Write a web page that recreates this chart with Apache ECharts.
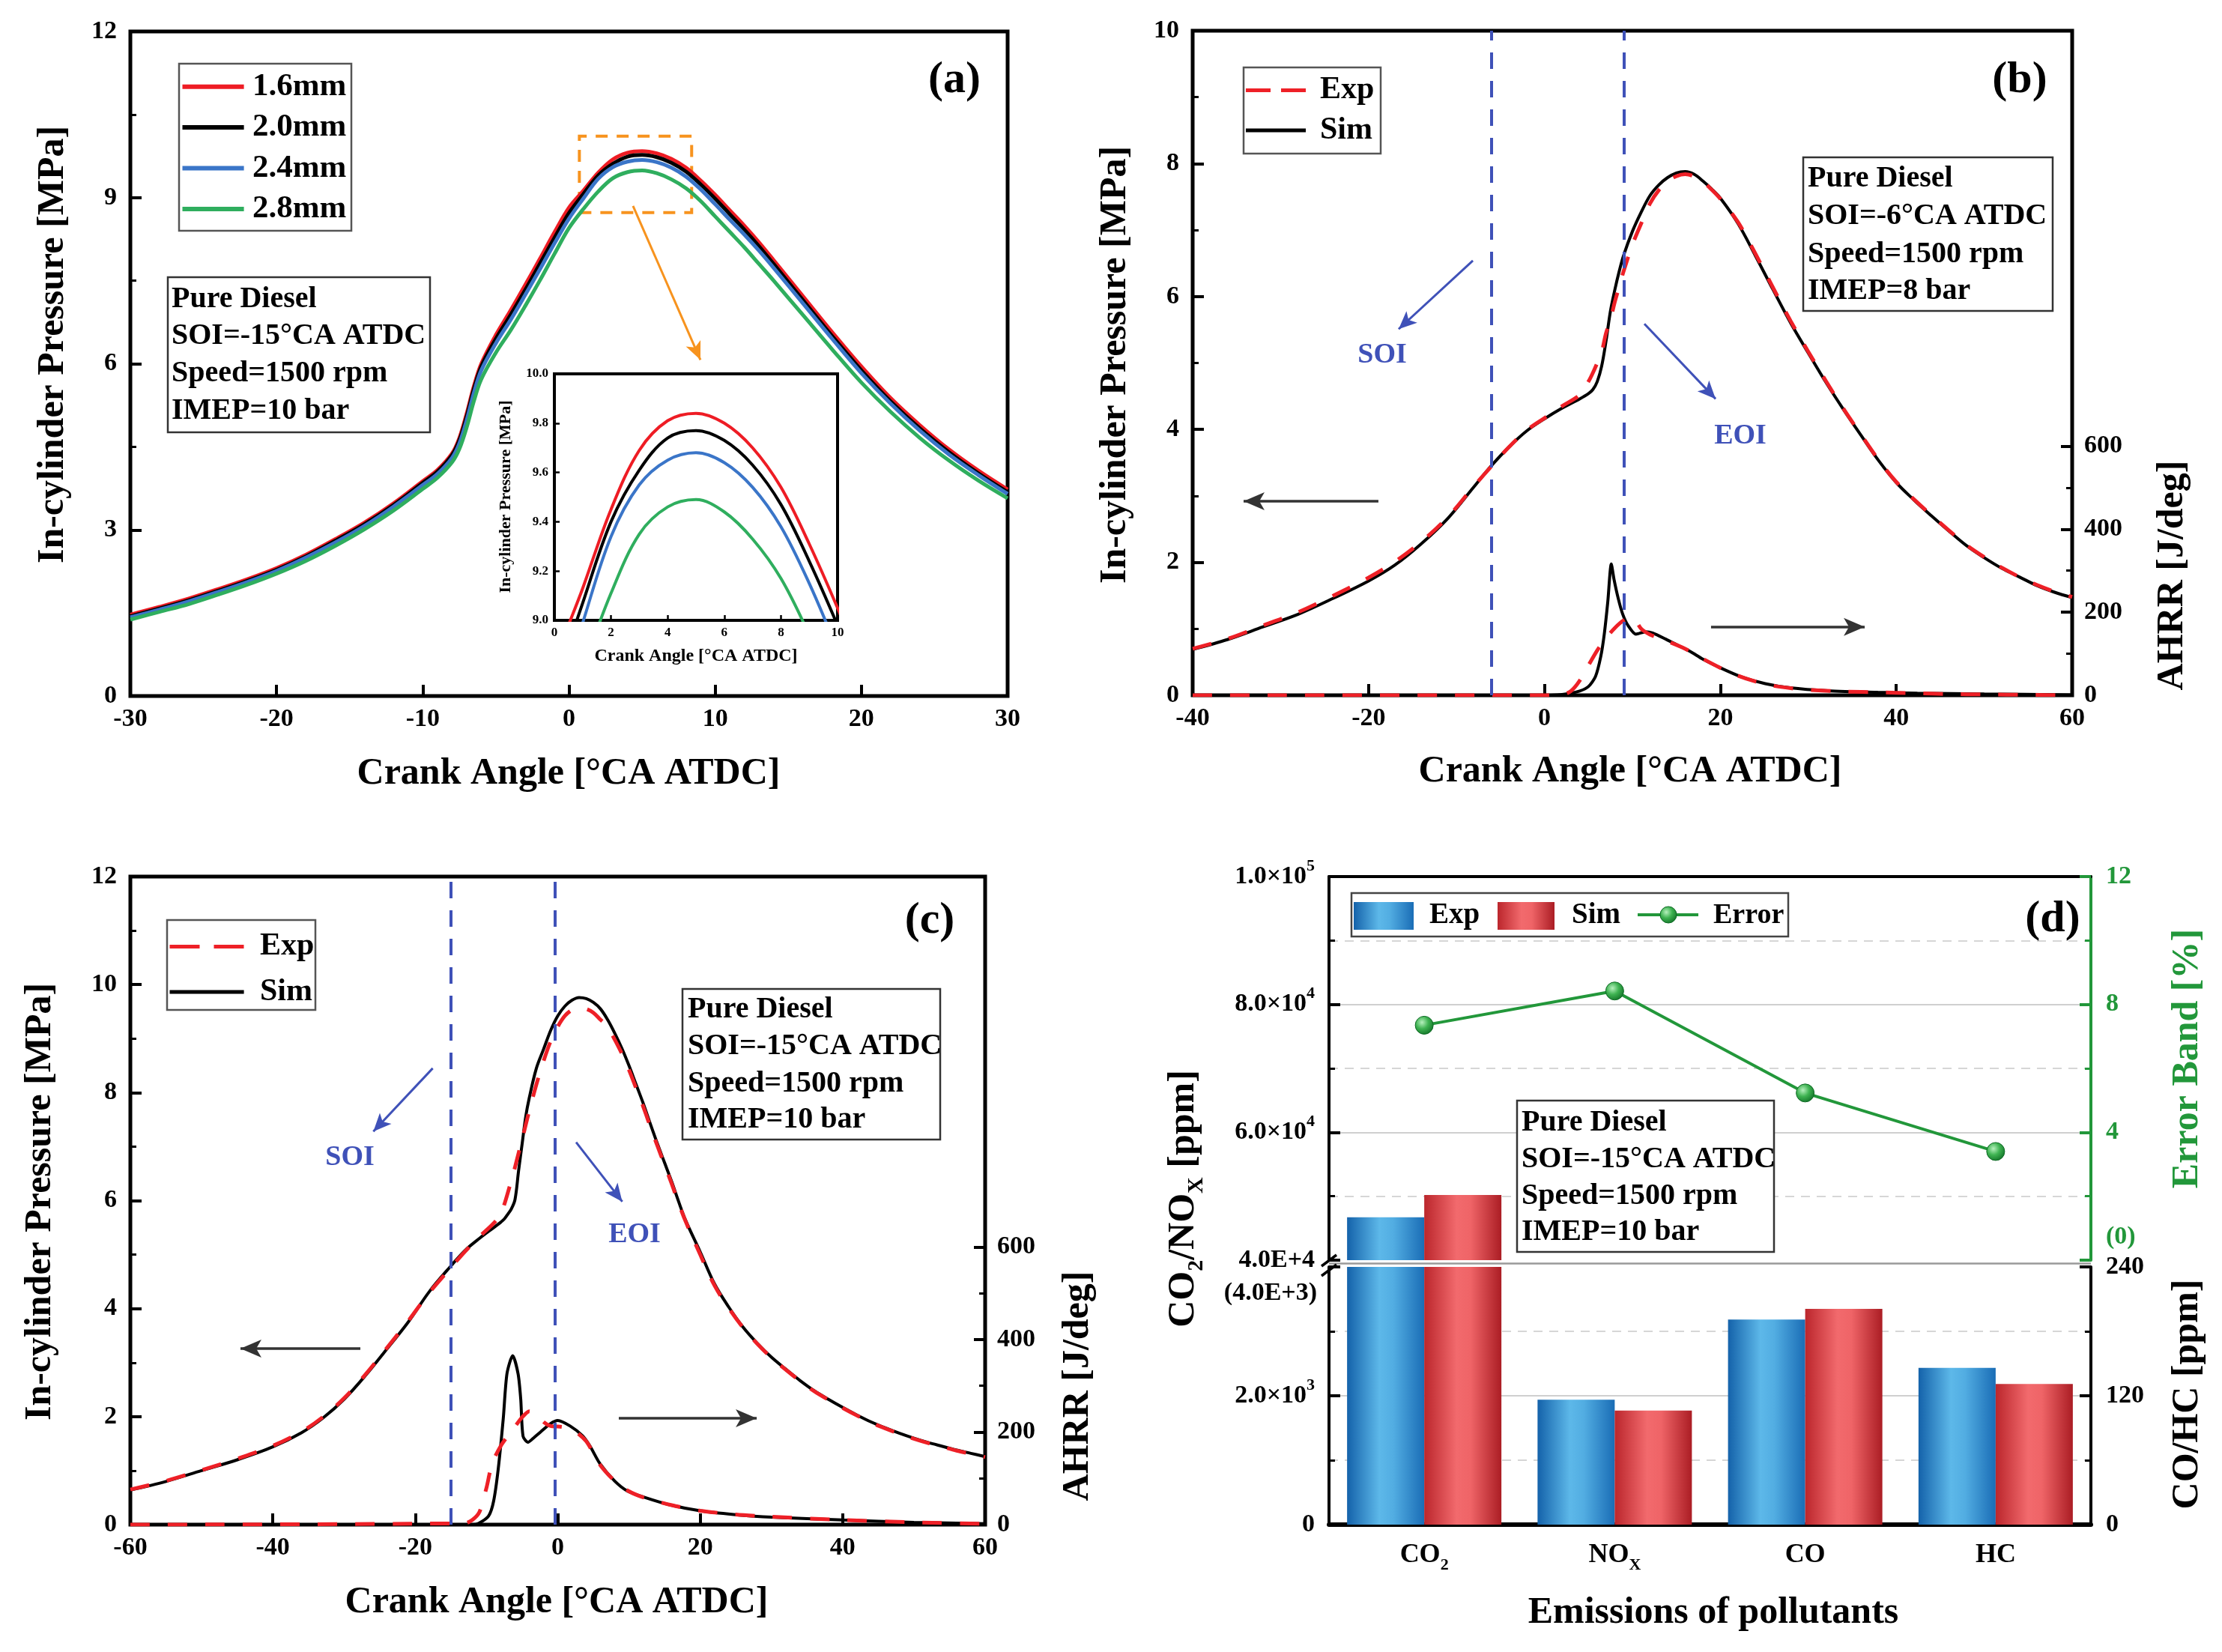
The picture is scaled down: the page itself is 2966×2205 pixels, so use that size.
<!DOCTYPE html>
<html>
<head>
<meta charset="utf-8">
<title>Pure diesel validation</title>
<script src="https://cdn.jsdelivr.net/npm/echarts@6.0.0/dist/echarts.min.js"></script>
<style>
html,body{margin:0;padding:0;background:#ffffff;}
#chart{width:2966px;height:2205px;}
</style>
</head>
<body>
<div id="chart"></div>
<script>
// ================= DATA =================
// ---- Panel (a): in-cylinder pressure for four nozzle sizes ----
const aNames = ['1.6mm', '2.0mm', '2.4mm', '2.8mm'];
const aCrank = [-30,-28,-26,-24,-22,-20,-18,-16,-14,-12,-10,-9,-8,-7.5,-7,-6.5,-6,-5,-4,-3,-2,-1,0,1,2,3,4,5,6,7,8,9,10,11,12,13,14,16,18,20,22,24,26,28,30];
const aP16 = [1.47,1.61,1.76,1.93,2.11,2.31,2.55,2.83,3.13,3.48,3.88,4.08,4.38,4.66,5.10,5.60,6.00,6.52,6.96,7.42,7.89,8.37,8.82,9.13,9.45,9.69,9.81,9.84,9.80,9.70,9.54,9.31,9.05,8.77,8.49,8.19,7.87,7.22,6.57,5.95,5.38,4.89,4.45,4.07,3.73];
const aP20 = [1.44,1.58,1.73,1.90,2.08,2.28,2.52,2.80,3.10,3.45,3.85,4.05,4.35,4.62,5.05,5.55,5.95,6.45,6.88,7.33,7.80,8.27,8.72,9.07,9.40,9.61,9.74,9.77,9.73,9.63,9.47,9.24,8.98,8.70,8.42,8.12,7.80,7.15,6.50,5.88,5.32,4.83,4.40,4.02,3.68];
const aP24 = [1.42,1.56,1.71,1.88,2.06,2.26,2.50,2.77,3.07,3.42,3.81,4.01,4.30,4.56,4.98,5.48,5.88,6.37,6.79,7.24,7.70,8.17,8.62,8.99,9.34,9.55,9.65,9.68,9.64,9.54,9.38,9.15,8.88,8.60,8.33,8.04,7.73,7.09,6.45,5.83,5.28,4.79,4.36,3.99,3.65];
const aP28 = [1.38,1.52,1.66,1.83,2.01,2.21,2.44,2.71,3.01,3.35,3.74,3.94,4.22,4.46,4.85,5.33,5.72,6.20,6.60,7.04,7.50,7.98,8.45,8.80,9.11,9.35,9.46,9.49,9.44,9.33,9.17,8.94,8.66,8.38,8.10,7.80,7.50,6.88,6.26,5.66,5.13,4.66,4.25,3.89,3.57];
const aInfo = ['Pure Diesel', 'SOI=-15°CA ATDC', 'Speed=1500 rpm', 'IMEP=10 bar'];

// ---- Panel (b): SOI=-6, IMEP=8 bar ----
const bCrank = [-40,-36,-32,-28,-24,-20,-17,-14,-11,-8,-6,-4,-2,0,2,4,5,5.5,6,6.5,7,7.5,8,8.5,9,10,11,12,13,14,15,16,17,18,19,20,22,24,26,28,30,32,34,36,38,40,42,44,46,48,50,52,54,56,58,60];
const bSimP = [0.69,0.84,1.03,1.22,1.46,1.72,1.96,2.28,2.66,3.14,3.46,3.74,3.98,4.16,4.32,4.46,4.54,4.60,4.72,4.95,5.33,5.78,6.10,6.38,6.62,6.98,7.27,7.52,7.68,7.79,7.86,7.88,7.84,7.74,7.62,7.48,7.10,6.61,6.10,5.60,5.15,4.71,4.30,3.91,3.53,3.20,2.94,2.70,2.47,2.25,2.07,1.91,1.78,1.65,1.55,1.47];
const bExpP = [0.70,0.85,1.05,1.25,1.50,1.77,2.01,2.31,2.68,3.15,3.45,3.74,3.99,4.17,4.35,4.52,4.72,4.85,5.00,5.16,5.45,5.65,5.92,6.15,6.38,6.78,7.10,7.40,7.60,7.73,7.81,7.84,7.81,7.73,7.61,7.47,7.12,6.64,6.13,5.63,5.17,4.73,4.31,3.92,3.54,3.21,2.95,2.71,2.48,2.26,2.08,1.92,1.78,1.66,1.56,1.48];
const bSimHX = [-40,0,2,3,4,5,5.8,6.4,6.8,7.2,7.6,7.9,8.4,8.9,9.5,10.4,11.5,12.3,13.8,15.2,16.6,18,20,22.3,25.1,27.9,32.2,37.9,42.4,50,60];
const bSimH  = [0,0,2,5,10,21,45,93,147,225,316,280,232,195,168,147,153,150,135,120,105,87,66,45,28,18,11,7,5,3,1];
const bExpHX = [-40,0,2,3,4,5,6,7,8,9,10,11,12,13,14,16,18,20,22,24,26,28,30,34,38,42,46,50,55,60];
const bExpH  = [0,0,1,10,35,72,108,138,162,180,187,160,146,138,130,112,88,66,47,33,23,17,13,9,7,5,3,2,1,0];
const bInjection = [-6, 9];   // SOI, EOI
const bInfo = ['Pure Diesel', 'SOI=-6°CA ATDC', 'Speed=1500 rpm', 'IMEP=8 bar'];

// ---- Panel (c): SOI=-15, IMEP=10 bar ----
const cCrank = [-60,-55,-50,-45,-40,-36,-33,-30,-27,-24,-21,-18,-15,-13,-11,-9,-8,-7.5,-7,-6.5,-6,-5.5,-5,-4.5,-4,-3,-2,-1,0,1,2,3,4,5,6,7,8,9,10,11,12,13,14,15,16,17,18,20,22,24,26,28,30,32,34,36,38,40,42,44,46,48,50,52,54,56,58,60];
const cSimP = [0.64,0.80,1.00,1.20,1.44,1.70,1.97,2.32,2.76,3.25,3.75,4.32,4.79,5.08,5.30,5.50,5.60,5.66,5.75,5.85,6.02,6.55,7.05,7.55,7.90,8.45,8.80,9.15,9.42,9.60,9.71,9.76,9.74,9.67,9.55,9.35,9.10,8.82,8.50,8.15,7.80,7.42,7.05,6.70,6.35,5.97,5.62,5.05,4.46,4.03,3.66,3.36,3.10,2.88,2.67,2.48,2.32,2.17,2.03,1.90,1.79,1.69,1.60,1.52,1.45,1.38,1.32,1.26];
const cExpP = [0.65,0.81,1.01,1.22,1.46,1.72,1.99,2.34,2.78,3.27,3.77,4.30,4.76,5.06,5.33,5.58,5.75,5.93,6.15,6.38,6.62,6.88,7.13,7.40,7.66,8.15,8.58,8.95,9.22,9.42,9.53,9.57,9.55,9.48,9.35,9.22,8.98,8.72,8.42,8.08,7.74,7.37,7.01,6.66,6.31,5.94,5.60,5.00,4.43,4.01,3.65,3.35,3.09,2.87,2.66,2.47,2.31,2.16,2.02,1.89,1.78,1.68,1.59,1.51,1.44,1.37,1.31,1.25];
const cSimHX = [-60,-12,-11.1,-9.7,-9.0,-8.35,-7.65,-7.13,-6.33,-5.57,-5.2,-4.87,-4.17,-3.48,-2.43,-1.04,0,1.74,3.48,4.52,5.91,8.0,9.74,12.2,15.7,20,24.7,30,40,50,60];
const cSimH  = [0,0,3,19,51,121,229,326,365,326,272,191,178,186,200,218,225,213,192,170,132,94,73,59,43,30,22,16,10,5,2];
const cExpHX = [-60,-13,-12,-11,-10,-9.5,-9,-8,-7,-6,-5,-4,-3,-2,-1,0,1,2,3,4,5,6,8,10,12,16,20,25,30,40,50,60];
const cExpH  = [0,3,10,27,80,115,140,170,192,212,232,245,240,222,213,212,210,205,195,180,155,128,94,72,59,42,30,22,17,10,5,2];
const cInjection = [-15, -0.4];  // SOI, EOI
const cInfo = ['Pure Diesel', 'SOI=-15°CA ATDC', 'Speed=1500 rpm', 'IMEP=10 bar'];

// ---- Panel (d): emissions ----
const dCategories = ['CO2', 'NOx', 'CO', 'HC'];
const dCatLabels  = ['CO{s|2}', 'NO{s|X}', 'CO', 'HC'];
const dExp   = [46700, 1940, 191, 146];
const dSim   = [50200, 1770, 201, 131];
const dError = [7.35, 8.42, 5.23, 3.40];
const dUpLeftLabels  = {40000: '4.0E+4', 60000: '{m|6.0×10}{p|4}', 80000: '{m|8.0×10}{p|4}', 100000: '{m|1.0×10}{p|5}'};
const dLowLeftLabels = {0: '0', 2000: '{m|2.0×10}{p|3}', 4000: ''};
const dUpRightLabels = {0: '', 4: '4', 8: '8', 12: '12'};
const dLowRightLabels = {0: '0', 120: '120', 240: '240'};
const dInfo = ['Pure Diesel', 'SOI=-15°CA ATDC', 'Speed=1500 rpm', 'IMEP=10 bar'];

// ================= STYLE =================
const F = '"Times New Roman","Liberation Serif",serif';
const RED = '#ee2027', BLUEL = '#3f51b8', GREEN = '#22973a';
const aColors = ['#ee1c24', '#000000', '#3a75c8', '#2fae5e'];
const pairs = (xs, ys) => xs.map((x, i) => [x, ys[i]]);

const lab = (size, margin, extra) => Object.assign({show: true, color: '#000', fontFamily: F, fontWeight: 'bold', fontSize: size, margin: margin, showMinLabel: true, showMaxLabel: true}, extra || {});
const tick = (len, w, color, extra) => Object.assign({show: true, inside: true, length: len, lineStyle: {color: color || '#000', width: w}}, extra || {});
const minor = (len, w, color) => ({show: true, splitNumber: 2, length: len, lineStyle: {color: color || '#000', width: w}});
const noLine = {show: false, onZero: false};
const noSplit = {show: false};

function valX(grid, min, max, interval, size, margin, tl, tw) {
  return {type: 'value', gridIndex: grid, min: min, max: max, interval: interval, axisLine: noLine,
    axisTick: tick(tl || 15, tw || 4), minorTick: {show: false}, splitLine: noSplit, axisLabel: lab(size || 34, margin || 14)};
}
function valY(grid, min, max, interval, extra) {
  return Object.assign({type: 'value', gridIndex: grid, position: 'left', min: min, max: max, interval: interval, axisLine: noLine,
    axisTick: tick(15, 4), minorTick: minor(8, 3), splitLine: noSplit, axisLabel: lab(34, 18)}, extra || {});
}
function ahrrY(grid, max) {
  return {type: 'value', gridIndex: grid, position: 'right', min: 0, max: max, interval: 200, axisLine: noLine,
    axisTick: tick(15, 4, '#000', {customValues: [0, 200, 400, 600]}), minorTick: {show: false}, splitLine: noSplit,
    axisLabel: lab(34, 16, {customValues: [0, 200, 400, 600]})};
}
function ahrrMinorY(grid, max) {
  return {type: 'value', gridIndex: grid, position: 'right', min: 0, max: max, interval: 200, axisLine: noLine,
    axisTick: tick(8, 3, '#000', {customValues: [100, 300, 500]}), minorTick: {show: false}, splitLine: noSplit,
    axisLabel: {show: false}};
}

function vline(x) { return {xAxis: x, lineStyle: {color: BLUEL, width: 4, type: [22, 16]}}; }
function arrow(p1, p2, color, width, size) {
  const ls = {color: color, width: width, type: 'solid'};
  return [{coord: p1, symbol: 'none', lineStyle: ls}, {coord: p2, symbol: 'arrow', symbolSize: size, lineStyle: ls}];
}
function mline(items) {
  return {silent: true, symbol: ['none', 'none'], label: {show: false}, emphasis: {disabled: true}, animation: false, data: items};
}

const gridBase = {show: true, borderColor: '#000', borderWidth: 5, backgroundColor: 'rgba(0,0,0,0)', containLabel: false, outerBoundsMode: 'none'};
const SM_P = 0.35, SM_H = 0.25;

// ================= SERIES =================
const series = [];
const aCurves = [aP16, aP20, aP24, aP28];
aCurves.forEach((ys, i) => {
  const s = {type: 'line', name: aNames[i], xAxisIndex: 0, yAxisIndex: 0, data: pairs(aCrank, ys), symbol: 'none', showSymbol: false,
    smooth: SM_P, lineStyle: {color: aColors[i], width: 5}, itemStyle: {color: aColors[i]}, silent: true, z: 3};
  if (i === 1) {
    s.markArea = {silent: true, itemStyle: {color: 'rgba(0,0,0,0)', borderColor: '#f7931e', borderWidth: 4, borderType: [16, 12]},
      data: [[{coord: [0.71, 8.73]}, {coord: [8.39, 10.11]}]]};
    s.markLine = mline([arrow([4.38, 8.85], [8.99, 6.07], '#f7931e', 3, [16, 24])]);
  }
  series.push(s);
});
aCurves.forEach((ys, i) => {
  series.push({type: 'line', name: aNames[i], xAxisIndex: 1, yAxisIndex: 1, data: pairs(aCrank, ys), symbol: 'none', showSymbol: false,
    smooth: SM_P, lineStyle: {color: aColors[i], width: 4}, itemStyle: {color: aColors[i]}, silent: true, z: 3});
});

// panel (b)
series.push({type: 'line', name: 'Sim', xAxisIndex: 2, yAxisIndex: 2, data: pairs(bCrank, bSimP), symbol: 'none', smooth: SM_P,
  lineStyle: {color: '#000', width: 4}, itemStyle: {color: '#000'}, silent: true, z: 3,
  markLine: mline([vline(bInjection[0]), vline(bInjection[1]),
    arrow([-8.14, 6.54], [-16.58, 5.51], BLUEL, 3, [16, 24]),
    arrow([11.36, 5.59], [19.46, 4.46], BLUEL, 3, [16, 24]),
    arrow([-18.88, 2.92], [-34.21, 2.92], '#333', 3.5, [18, 28]),
    arrow([18.94, 1.03], [36.41, 1.03], '#333', 3.5, [18, 28])])});
series.push({type: 'line', name: 'Exp', xAxisIndex: 2, yAxisIndex: 2, data: pairs(bCrank, bExpP), symbol: 'none', smooth: SM_P,
  lineStyle: {color: RED, width: 5, type: [26, 24]}, itemStyle: {color: RED}, silent: true, z: 4});
series.push({type: 'line', name: 'Sim', xAxisIndex: 2, yAxisIndex: 3, data: pairs(bSimHX, bSimH), symbol: 'none', smooth: SM_H,
  lineStyle: {color: '#000', width: 4}, itemStyle: {color: '#000'}, silent: true, z: 3});
series.push({type: 'line', name: 'Exp', xAxisIndex: 2, yAxisIndex: 3, data: pairs(bExpHX, bExpH), symbol: 'none', smooth: SM_H,
  lineStyle: {color: RED, width: 5, type: [26, 24]}, itemStyle: {color: RED}, silent: true, z: 4});

// panel (c)
series.push({type: 'line', name: 'Sim', xAxisIndex: 3, yAxisIndex: 5, data: pairs(cCrank, cSimP), symbol: 'none', smooth: SM_P,
  lineStyle: {color: '#000', width: 4}, itemStyle: {color: '#000'}, silent: true, z: 3,
  markLine: mline([vline(cInjection[0]), vline(cInjection[1]),
    arrow([-17.55, 8.45], [-25.89, 7.28], BLUEL, 3, [16, 24]),
    arrow([2.58, 7.08], [9.06, 5.98], BLUEL, 3, [16, 24]),
    arrow([-27.71, 3.26], [-44.54, 3.26], '#333', 3.5, [18, 28]),
    arrow([8.57, 1.97], [27.93, 1.97], '#333', 3.5, [18, 28])])});
series.push({type: 'line', name: 'Exp', xAxisIndex: 3, yAxisIndex: 5, data: pairs(cCrank, cExpP), symbol: 'none', smooth: SM_P,
  lineStyle: {color: RED, width: 5, type: [26, 24]}, itemStyle: {color: RED}, silent: true, z: 4});
series.push({type: 'line', name: 'Sim', xAxisIndex: 3, yAxisIndex: 6, data: pairs(cSimHX, cSimH), symbol: 'none', smooth: SM_H,
  lineStyle: {color: '#000', width: 4}, itemStyle: {color: '#000'}, silent: true, z: 3});
series.push({type: 'line', name: 'Exp', xAxisIndex: 3, yAxisIndex: 6, data: pairs(cExpHX, cExpH), symbol: 'none', smooth: SM_H,
  lineStyle: {color: RED, width: 5, type: [26, 24]}, itemStyle: {color: RED}, silent: true, z: 4});

// panel (d)
const expGrad = new echarts.graphic.LinearGradient(0, 0, 1, 0, [
  {offset: 0, color: '#1462aa'}, {offset: 0.42, color: '#5db8e9'}, {offset: 0.6, color: '#52ade2'}, {offset: 1, color: '#1a6db6'}]);
const simGrad = new echarts.graphic.LinearGradient(0, 0, 1, 0, [
  {offset: 0, color: '#bb262c'}, {offset: 0.42, color: '#f26a6d'}, {offset: 0.6, color: '#ef6467'}, {offset: 1, color: '#ab1d24'}]);
const dotGrad = new echarts.graphic.RadialGradient(0.38, 0.35, 0.75, [
  {offset: 0, color: '#b6f0bd'}, {offset: 0.45, color: '#3fb352'}, {offset: 1, color: '#0c6a22'}]);
const pick = (arr, idx) => arr.map((v, i) => idx.indexOf(i) >= 0 ? v : '-');
const barBase = {type: 'bar', barWidth: 103, barGap: '0%', silent: true, z: 3};
series.push(Object.assign({}, barBase, {name: 'Exp', xAxisIndex: 4, yAxisIndex: 8, data: pick(dExp, [0]), itemStyle: {color: expGrad}}));
series.push(Object.assign({}, barBase, {name: 'Sim', xAxisIndex: 4, yAxisIndex: 8, data: pick(dSim, [0]), itemStyle: {color: simGrad}}));
series.push(Object.assign({}, barBase, {name: 'Exp', xAxisIndex: 5, yAxisIndex: 10, data: pick(dExp, [0, 1]), itemStyle: {color: expGrad}}));
series.push(Object.assign({}, barBase, {name: 'Sim', xAxisIndex: 5, yAxisIndex: 10, data: pick(dSim, [0, 1]), itemStyle: {color: simGrad}}));
series.push(Object.assign({}, barBase, {name: 'Exp', xAxisIndex: 6, yAxisIndex: 11, data: pick(dExp, [2, 3]), itemStyle: {color: expGrad}}));
series.push(Object.assign({}, barBase, {name: 'Sim', xAxisIndex: 6, yAxisIndex: 11, data: pick(dSim, [2, 3]), itemStyle: {color: simGrad}}));
series.push({type: 'line', name: 'Error', xAxisIndex: 4, yAxisIndex: 9, data: dError, symbol: 'circle', symbolSize: 24, showSymbol: true,
  lineStyle: {color: GREEN, width: 4}, itemStyle: {color: dotGrad, borderColor: '#0d6a24', borderWidth: 1}, silent: true, z: 6});

// ================= GRAPHICS (titles, legends, notes) =================
const G = [];
function T(x, y, text, size, o) {
  o = o || {};
  const st = {text: text, fontSize: size, fontWeight: 'bold', fontFamily: F, fill: o.color || '#000',
    align: o.align || 'center', verticalAlign: 'middle', textAlign: o.align || 'center', textVerticalAlign: 'middle'};
  if (o.rich) { st.rich = o.rich; st.lineHeight = o.lh || size * 1.3; }
  G.push({type: 'text', x: x, y: y, rotation: o.rot ? Math.PI / 2 : 0, z: 101, silent: true, style: st});
}
function L(x1, y1, x2, y2, color, w, dash) {
  G.push({type: 'line', z: 101, silent: true, shape: {x1: x1, y1: y1, x2: x2, y2: y2}, style: {stroke: color, lineWidth: w, lineDash: dash || null}});
}
function R(x, y, w, h, o) {
  o = o || {};
  G.push({type: 'rect', z: 100, silent: true, shape: {x: x, y: y, width: w, height: h}, style: {fill: o.fill || '#fff', stroke: o.stroke || '#333', lineWidth: o.lw === undefined ? 2.5 : o.lw}});
}
function infoBox(x, y, w, h, tx, ys, lines) {
  R(x, y, w, h);
  lines.forEach((t, i) => T(tx, ys[i], t, 40, {align: 'left'}));
}

// axis titles
T(71, 460, 'In-cylinder Pressure [MPa]', 50, {rot: true});
T(759, 1033, 'Crank Angle [°CA ATDC]', 50);
T(1489, 487, 'In-cylinder Pressure [MPa]', 50, {rot: true});
T(2176, 1030, 'Crank Angle [°CA ATDC]', 50);
T(2900, 768, 'AHRR [J/deg]', 50, {rot: true});
T(54, 1604, 'In-cylinder Pressure [MPa]', 50, {rot: true});
T(743, 2139, 'Crank Angle [°CA ATDC]', 50);
T(1439, 1850, 'AHRR [J/deg]', 50, {rot: true});
T(1580, 1600, 'CO{s|2}/NO{s|X} [ppm]', 50, {rot: true, lh: 64,
  rich: {s: {fontSize: 30, fontWeight: 'bold', fontFamily: F, lineHeight: 30, verticalAlign: 'bottom'}}});
T(2920, 1413, 'Error Band [%]', 50, {rot: true, color: GREEN});
T(2920, 1861, 'CO/HC [ppm]', 50, {rot: true});
T(2287, 2153, 'Emissions of pollutants', 50);
// inset titles
T(675, 663, 'In-cylinder Pressure [MPa]', 22, {rot: true});
T(929, 876, 'Crank Angle [°CA ATDC]', 24);

// panel labels
T(1274, 107, '(a)', 60);
T(2696, 107, '(b)', 60);
T(1241, 1229, '(c)', 60);
T(2740, 1227, '(d)', 60);

// SOI / EOI annotations
T(1845, 474, 'SOI', 38, {color: BLUEL});
T(2323, 582, 'EOI', 38, {color: BLUEL});
T(467, 1545, 'SOI', 38, {color: BLUEL});
T(847, 1648, 'EOI', 38, {color: BLUEL});

// legend (a)
R(239, 85, 230, 223, {stroke: '#555'});
[115.7, 170.1, 224.5, 278.9].forEach((y, i) => {
  L(243.5, y, 325.6, y, aColors[i], 6);
  T(337, y, aNames[i], 43, {align: 'left'});
});
// legend (b)
R(1660, 90, 183, 115, {stroke: '#555'});
L(1663, 120.5, 1743, 120.5, RED, 5, [33, 14]);
L(1663, 174, 1743, 174, '#000', 5);
T(1762, 120.5, 'Exp', 42, {align: 'left'});
T(1762, 174, 'Sim', 42, {align: 'left'});
// legend (c)
R(223, 1228, 198, 120, {stroke: '#555'});
L(226.5, 1263.5, 325.6, 1263.5, RED, 5, [40, 19]);
L(226.5, 1324, 325.6, 1324, '#000', 5);
T(347, 1263.5, 'Exp', 42, {align: 'left'});
T(347, 1324, 'Sim', 42, {align: 'left'});
// legend (d)
R(1804, 1192, 583, 58, {stroke: '#444'});
G.push({type: 'rect', z: 101, silent: true, shape: {x: 1807, y: 1204, width: 80, height: 37}, style: {fill: expGrad}});
T(1908, 1222, 'Exp', 39, {align: 'left'});
G.push({type: 'rect', z: 101, silent: true, shape: {x: 1999, y: 1204, width: 76, height: 37}, style: {fill: simGrad}});
T(2098, 1222, 'Sim', 39, {align: 'left'});
L(2186, 1221, 2267, 1221, GREEN, 4);
G.push({type: 'circle', z: 102, silent: true, shape: {cx: 2227, cy: 1221, r: 11}, style: {fill: dotGrad, stroke: '#0d6a24', lineWidth: 1}});
T(2287, 1222, 'Error', 38, {align: 'left'});

// info boxes
infoBox(224, 370, 350, 207, 229, [399.5, 449, 498.7, 549], aInfo);
infoBox(2407, 210, 333, 205, 2413, [239, 289, 340, 389], bInfo);
infoBox(911, 1320, 344, 201, 918, [1348, 1397, 1447, 1495], cInfo);
infoBox(2025, 1469, 343, 202, 2031, [1499, 1548, 1597, 1645], dInfo);

// broken-axis decorations for (d)
T(1758, 1726, '(4.0E+3)', 34, {align: 'right'});
T(2811, 1651, '(0)', 34, {align: 'left', color: GREEN});
L(1774, 1686.5, 2791, 1686.5, '#9a9a9a', 2.5);
L(1764, 1690, 1784, 1675, '#000', 3.5);
L(1764, 1703, 1784, 1688, '#000', 3.5);

// ================= OPTION =================
const supRich = {
  m: {fontSize: 34, fontWeight: 'bold', fontFamily: F, color: '#000', lineHeight: 50},
  p: {fontSize: 22, fontWeight: 'bold', fontFamily: F, color: '#000', lineHeight: 22, verticalAlign: 'top'}
};
const subRich = {
  s: {fontSize: 22, fontWeight: 'bold', fontFamily: F, color: '#000', lineHeight: 22, verticalAlign: 'bottom'}
};

const option = {
  animation: false,
  backgroundColor: '#ffffff',
  textStyle: {fontFamily: F},
  grid: [
    Object.assign({}, gridBase, {left: 174, top: 42, width: 1171, height: 887}),
    Object.assign({}, gridBase, {left: 740, top: 499, width: 378, height: 329, borderWidth: 4, backgroundColor: '#ffffff'}),
    Object.assign({}, gridBase, {left: 1592, top: 41, width: 1174, height: 887}),
    Object.assign({}, gridBase, {left: 174, top: 1170, width: 1141, height: 865}),
    {show: false, left: 1774, top: 1170, width: 1017, height: 512, containLabel: false, outerBoundsMode: 'none'},
    {show: false, left: 1774, top: 1691, width: 1017, height: 344, containLabel: false, outerBoundsMode: 'none'}
  ],
  xAxis: [
    valX(0, -30, 30, 10),
    valX(1, 0, 10, 2, 17, 8, 7, 2.5),
    valX(2, -40, 60, 20),
    valX(3, -60, 60, 20),
    {type: 'category', gridIndex: 4, data: dCategories, position: 'top', axisLine: {show: true, onZero: false, lineStyle: {color: '#000', width: 4}},
      axisTick: {show: false}, axisLabel: {show: false}, splitLine: noSplit},
    {type: 'category', gridIndex: 5, data: dCategories, position: 'bottom', axisLine: {show: true, onZero: false, lineStyle: {color: '#000', width: 6}},
      axisTick: {show: false}, splitLine: noSplit,
      axisLabel: lab(36, 17, {lineHeight: 48, formatter: (v, i) => dCatLabels[i], rich: subRich})},
    {type: 'category', gridIndex: 5, data: dCategories, show: false, position: 'bottom'}
  ],
  yAxis: [
    valY(0, 0, 12, 3),
    valY(1, 9, 10, 0.2, {axisTick: tick(7, 2.5), minorTick: {show: false}, axisLabel: lab(17, 8, {formatter: v => v.toFixed(1)})}),
    valY(2, 0, 10, 2),
    ahrrY(2, 1600),
    ahrrMinorY(2, 1600),
    valY(3, 0, 12, 2),
    ahrrY(3, 1400),
    ahrrMinorY(3, 1400),
    // (d) upper left
    {type: 'value', gridIndex: 4, position: 'left', min: 40000, max: 100000, interval: 20000,
      axisLine: {show: true, onZero: false, lineStyle: {color: '#000', width: 4}},
      axisTick: tick(15, 4), minorTick: minor(8, 3),
      splitLine: {show: true, showMinLine: false, showMaxLine: false, lineStyle: {color: '#cfcfcf', width: 2}},
      minorSplitLine: {show: true, lineStyle: {color: '#d6d6d6', width: 2, type: [12, 9]}},
      axisLabel: lab(34, 19, {formatter: v => dUpLeftLabels[v] !== undefined ? dUpLeftLabels[v] : '', rich: supRich})},
    // (d) upper right (error band)
    {type: 'value', gridIndex: 4, position: 'right', min: 0, max: 12, interval: 4,
      axisLine: {show: true, onZero: false, lineStyle: {color: GREEN, width: 4}},
      axisTick: tick(15, 4, GREEN), minorTick: minor(8, 3, GREEN), splitLine: noSplit,
      axisLabel: lab(34, 20, {color: GREEN, formatter: v => dUpRightLabels[v] !== undefined ? dUpRightLabels[v] : ''})},
    // (d) lower left
    {type: 'value', gridIndex: 5, position: 'left', min: 0, max: 4000, interval: 2000,
      axisLine: {show: true, onZero: false, lineStyle: {color: '#000', width: 4}},
      axisTick: tick(15, 4), minorTick: minor(8, 3),
      splitLine: {show: true, showMinLine: false, showMaxLine: false, lineStyle: {color: '#cfcfcf', width: 2}},
      minorSplitLine: {show: true, lineStyle: {color: '#d6d6d6', width: 2, type: [12, 9]}},
      axisLabel: lab(34, 19, {formatter: v => dLowLeftLabels[v] !== undefined ? dLowLeftLabels[v] : '', rich: supRich})},
    // (d) lower right
    {type: 'value', gridIndex: 5, position: 'right', min: 0, max: 240, interval: 120,
      axisLine: {show: true, onZero: false, lineStyle: {color: '#000', width: 4}},
      axisTick: tick(15, 4), minorTick: minor(8, 3), splitLine: noSplit,
      axisLabel: lab(34, 20, {formatter: v => dLowRightLabels[v] !== undefined ? dLowRightLabels[v] : ''})}
  ],
  series: series,
  graphic: {elements: G}
};

const chart = echarts.init(document.getElementById('chart'), null, {renderer: 'canvas', width: 2966, height: 2205});
chart.setOption(option);
</script>
</body>
</html>
